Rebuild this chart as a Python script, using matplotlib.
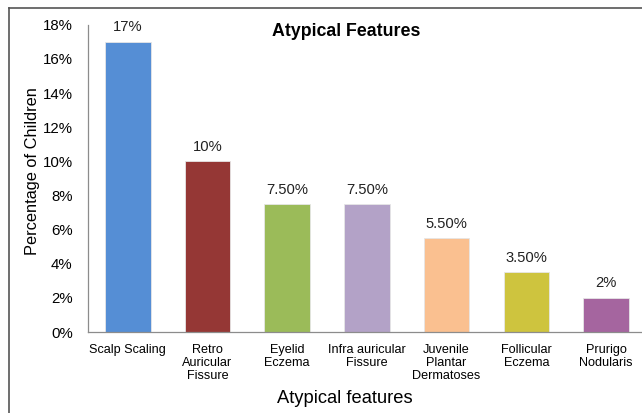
import matplotlib
matplotlib.use("Agg")
import matplotlib.pyplot as plt
from matplotlib.lines import Line2D
from matplotlib.ticker import FuncFormatter

plt.rcParams["font.family"] = ["Liberation Sans", "DejaVu Sans"]

categories = [
    "Scalp Scaling",
    "Retro\nAuricular\nFissure",
    "Eyelid\nEczema",
    "Infra auricular\nFissure",
    "Juvenile\nPlantar\nDermatoses",
    "Follicular\nEczema",
    "Prurigo\nNodularis",
]
values = [17, 10, 7.5, 7.5, 5.5, 3.5, 2]
value_labels = ["17%", "10%", "7.50%", "7.50%", "5.50%", "3.50%", "2%"]
colors = ["#558ed5", "#953735", "#9bbb59", "#b3a2c7", "#fac090", "#cec43e", "#a5659f"]
y_ticks = [0, 2, 4, 6, 8, 10, 12, 14, 16, 18]

fig = plt.figure(figsize=(6.42, 4.13), dpi=100)
ax = fig.add_axes([0.137, 0.196, 0.869, 0.744])

x = range(len(categories))
ax.bar(x, values, width=0.57, color=colors, edgecolor="#e6e6e6", linewidth=0.6, zorder=2)
for xi, v, lab in zip(x, values, value_labels):
    ax.text(xi, v + 0.85, lab, ha="center", va="center", fontsize=10.6, color="#222222")

ax.set_xlim(-0.5, len(categories) - 0.5)
ax.set_ylim(0, 18)
ax.set_yticks(y_ticks)
ax.yaxis.set_major_formatter(FuncFormatter(lambda v, _: f"{v:.0f}%"))
ax.set_xticks(list(x))
ax.set_xticklabels(categories, fontsize=9.1, linespacing=1.12)
ax.tick_params(axis="y", length=0, pad=11, labelsize=10.8)
ax.tick_params(axis="x", length=0, pad=8.5)

for side in ("top", "right"):
    ax.spines[side].set_visible(False)
for side in ("left", "bottom"):
    ax.spines[side].set_color("#8c8c8c")
    ax.spines[side].set_linewidth(0.9)

ax.set_ylabel("Percentage of Children", fontsize=11.8)
ax.yaxis.set_label_coords(-0.086, 0.523)
ax.set_xlabel("Atypical features", fontsize=13.2)
ax.xaxis.set_label_coords(0.461, -0.19)

fig.text(346 / 642, 1 - 31 / 413, "Atypical Features", ha="center", va="center",
         fontsize=12.8, fontweight="bold")

# outer frame (top and left edges)
fig.add_artist(Line2D([9 / 642, 9 / 642], [0, 1 - 8 / 413], transform=fig.transFigure,
                      color="#555555", linewidth=1.2))
fig.add_artist(Line2D([9 / 642, 1], [1 - 8 / 413, 1 - 8 / 413], transform=fig.transFigure,
                      color="#555555", linewidth=1.2))

fig.savefig("out.png", dpi=100)
